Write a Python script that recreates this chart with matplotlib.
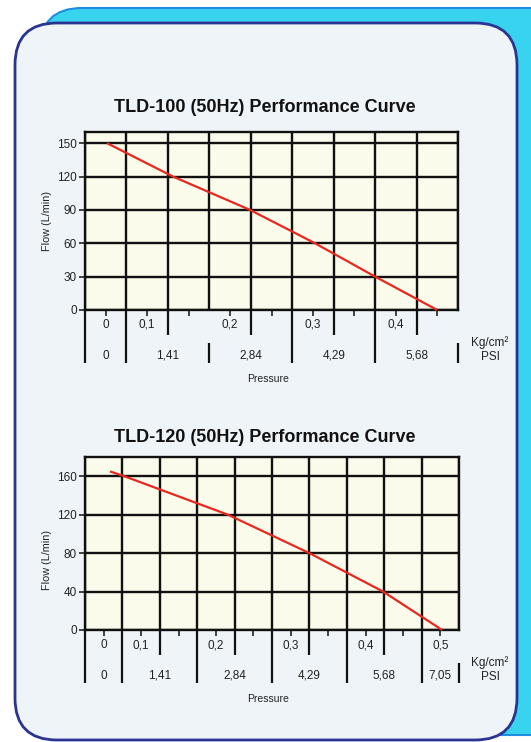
import matplotlib.pyplot as plt
import numpy as np
from matplotlib.patches import FancyBboxPatch

plt.rcParams['font.family'] = ['Liberation Sans', 'DejaVu Sans']

# ---- chart data (x = position along the grid, in grid columns) ----
titles = ['TLD-100 (50Hz) Performance Curve', 'TLD-120 (50Hz) Performance Curve']
n_cols = [9, 10]
y_limits = [160, 180]
y_ticks = [[0, 30, 60, 90, 120, 150], [0, 40, 80, 120, 160]]

curve1_x = [0.53, 2.12, 3.98, 5.55, 7.0, 8.5]
curve1_flow = [150, 120, 90, 60, 30, 0]
curve2_x = [0.67, 1.05, 3.82, 6.0, 7.97, 9.55]
curve2_flow = [165, 160, 120, 80, 40, 0]

kg_labels = [['0', '0,1', '0,2', '0,3', '0,4'],
             ['0', '0,1', '0,2', '0,3', '0,4', '0,5']]
kg_pos = [[0.5, 1.5, 3.5, 5.5, 7.5], [0.5, 1.5, 3.5, 5.5, 7.5, 9.5]]
kg_dividers = [[0, 1, 2, 4, 5, 6, 7, 8], [0, 1, 2, 3, 4, 5, 6, 7, 8, 9]]

psi_labels = [['0', '1,41', '2,84', '4,29', '5,68'],
              ['0', '1,41', '2,84', '4,29', '5,68', '7,05']]
psi_pos = [[0.5, 2, 4, 6, 8], [0.5, 2, 4, 6, 8, 9.5]]
psi_dividers = [[0, 1, 3, 5, 7, 9], [0, 1, 3, 5, 7, 9, 10]]

curves = [(curve1_x, curve1_flow), (curve2_x, curve2_flow)]

W, H = 531, 742
fig = plt.figure(figsize=(W / 100, H / 100), dpi=100)
fig.patch.set_facecolor('white')

# background panel
bg = fig.add_axes([0, 0, 1, 1])
bg.set_xlim(0, W)
bg.set_ylim(H, 0)
bg.axis('off')
bg.add_patch(FancyBboxPatch((40, 8), 560, 727, boxstyle='round,pad=0,rounding_size=42',
                            facecolor='#38d3ef', edgecolor='#1e8fe0', lw=1.5))
bg.add_patch(FancyBboxPatch((15, 23), 502, 717, boxstyle='round,pad=0,rounding_size=42',
                            facecolor='#eff4f8', edgecolor='#2a3592', lw=2))

# axes boxes in pixels: left, top, right, bottom(axis line)
boxes = [(85, 132, 458, 310), (85, 457, 459, 630)]
title_y = [107, 438]
ylabel_y = [221, 560]

for i in range(2):
    l, t, r, b = boxes[i]
    ax = fig.add_axes([l / W, (H - b) / H, (r - l) / W, (b - t) / H])
    ax.set_facecolor('#fafbea')
    nc = n_cols[i]
    ax.set_xlim(0, nc)
    ax.set_ylim(0, y_limits[i])
    ax.set_xticks(np.arange(nc + 1))
    ax.set_xticks(np.arange(nc) + 0.5, minor=True)
    ax.set_yticks(y_ticks[i])
    ax.tick_params(axis='x', which='major', length=0, labelbottom=False)
    ax.tick_params(axis='x', which='minor', length=4, width=1.2, direction='out', color='#222')
    ax.tick_params(axis='y', length=4, width=1.2, color='#222', labelsize=8.5,
                   labelcolor='#222', pad=2)
    ax.grid(True, which='major', color='#111', lw=1.7)
    for s in ax.spines.values():
        s.set_color('#111')
        s.set_linewidth(1.7)

    cx, cy = curves[i]
    ax.plot(cx, cy, color='#e8281e', lw=1.6, solid_capstyle='butt', zorder=5, clip_on=False)

    # pressure scales under the chart
    hpx = b - t
    trans = ax.get_xaxis_transform()

    def fy(px):
        return -px / hpx

    kg_bottom, psi_top, psi_bottom = 25, 33, 53
    for d in sorted(set(kg_dividers[i]) | set(psi_dividers[i])):
        in_kg = d in kg_dividers[i]
        in_psi = d in psi_dividers[i]
        y0 = 0 if in_kg else fy(psi_top)
        y1 = fy(psi_bottom) if in_psi else fy(kg_bottom)
        ax.plot([d, d], [y0, y1], transform=trans, color='#111', lw=1.6,
                clip_on=False, solid_capstyle='butt')
    for p, lab in zip(kg_pos[i], kg_labels[i]):
        ax.text(p, fy(15), lab, transform=trans, ha='center', va='center',
                fontsize=8.5, color='#222')
    for p, lab in zip(psi_pos[i], psi_labels[i]):
        ax.text(p, fy(46), lab, transform=trans, ha='center', va='center',
                fontsize=8.5, color='#222')

    fig.text(490 / W, 1 - (b + 33) / H, 'Kg/cm²', ha='center', va='center',
             fontsize=8.5, color='#222')
    fig.text(490 / W, 1 - (b + 47) / H, 'PSI', ha='center', va='center',
             fontsize=8.5, color='#222')
    fig.text(268 / W, 1 - (b + 69) / H, 'Pressure', ha='center', va='center',
             fontsize=7.5, color='#222')
    fig.text(265 / W, 1 - title_y[i] / H, titles[i], ha='center', va='center',
             fontsize=13, fontweight='bold', color='#111')
    fig.text(47 / W, 1 - ylabel_y[i] / H, 'Flow (L/min)', ha='center', va='center',
             rotation=90, fontsize=7.8, color='#222')

fig.savefig('out.png', dpi=100)
